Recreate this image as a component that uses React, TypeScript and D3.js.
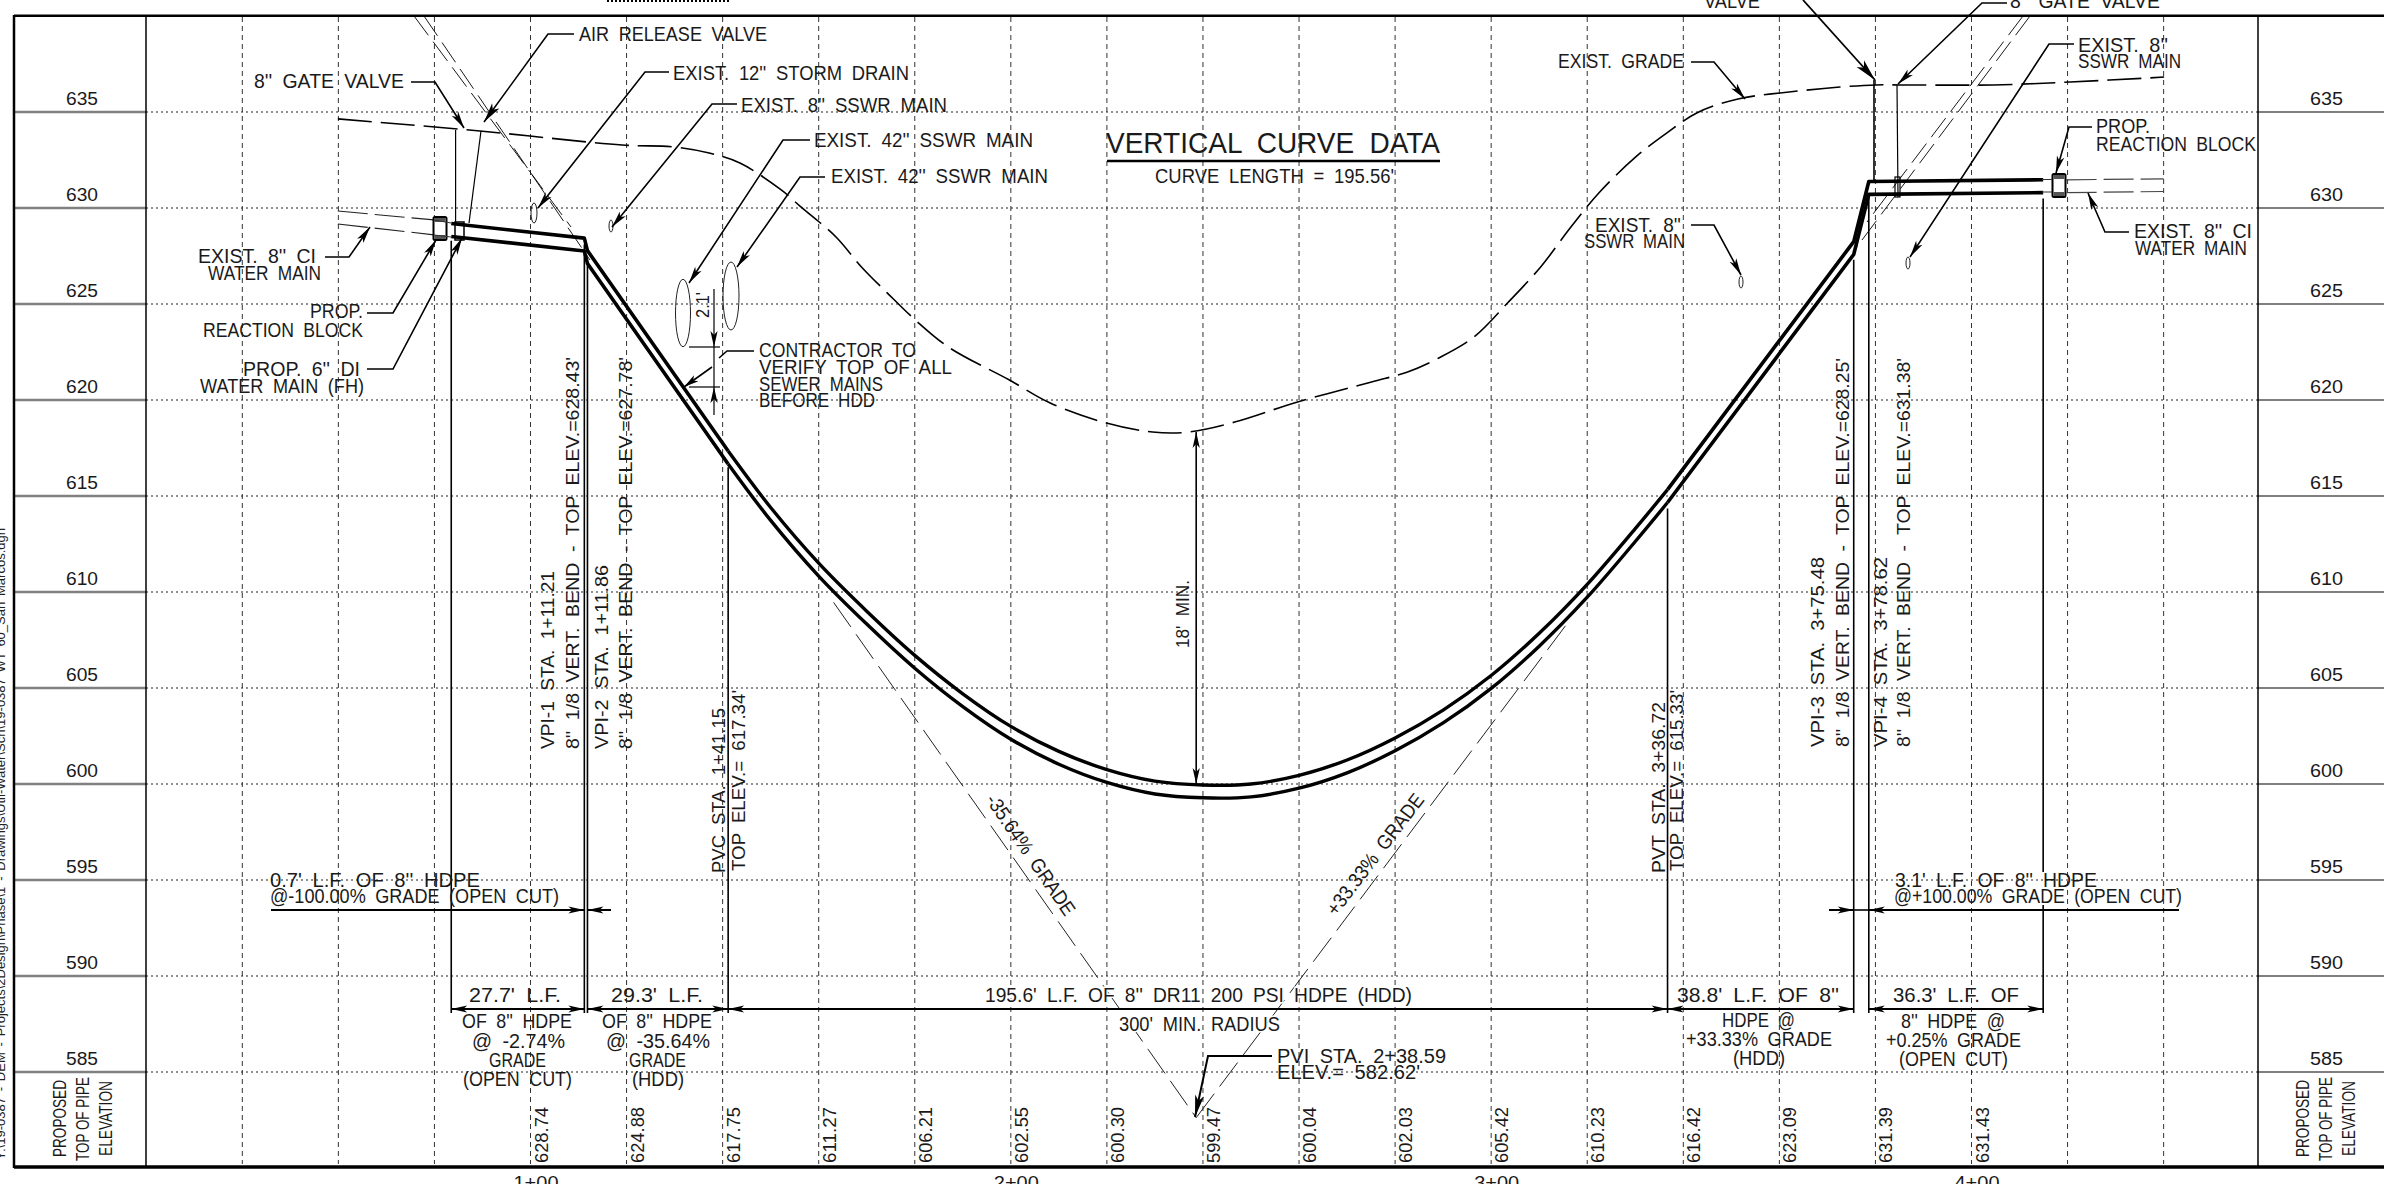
import React from "react";
import * as d3 from "d3";

// ---------- values (station in feet, elevation in feet) ----------
const elevationTicks = [635, 630, 625, 620, 615, 610, 605, 600, 595, 590, 585];
const gridStations = [40, 60, 80, 100, 120, 140, 160, 180, 200, 220, 240, 260, 280, 300, 320, 340, 360, 380, 400, 420, 440];
const stationLabels = [100, 200, 300, 400];
const stationLabelText = ["1+00", "2+00", "3+00", "4+00"];
const rowStations = [100, 120, 140, 160, 180, 200, 220, 240, 260, 280, 300, 320, 340, 360, 380, 400];
const rowElevations = ["628.74", "624.88", "617.75", "611.27", "606.21", "602.55", "600.30", "599.47", "600.04", "602.03", "605.42", "610.23", "616.42", "623.09", "631.39", "631.43"];

const pipeLeftSta = [83.5, 111.21, 111.86, 141.15];
const pipeLeftTop = [629.19, 628.43, 627.78, 617.34];
const pipeCurveSta = [141.15, 150, 160, 170, 180, 190, 200, 210, 220, 230, 240, 250, 260, 270, 280, 290, 300, 310, 320, 330, 336.72];
const pipeCurveTop = [617.34, 614.4, 611.5, 609.0, 606.7, 604.7, 603.0, 601.7, 600.75, 600.15, 599.95, 600.0, 600.45, 601.25, 602.4, 603.85, 605.65, 607.85, 610.4, 613.3, 615.33];
const pipeRightSta = [336.72, 375.48, 378.62, 414.92];
const pipeRightTop = [615.33, 628.25, 631.38, 631.47];
const pipeThickness = 0.67;

const groundSta = [59.9, 89.5, 119.06, 129.7, 137.2, 143.6, 152.2, 156.1, 163.6, 168.9, 174.3, 180.1, 187, 199.7, 208.2, 219.9, 229.5, 237, 246.6, 259.7, 275.1, 282.6, 289.1, 296.4, 303.4, 310.3, 316.6, 322.6, 330.1, 336.6, 342.8, 351.4, 362, 372.6, 380.1, 385.3, 404.5, 420.5, 440.1];
const groundElev = [634.64, 634.01, 633.28, 633.18, 632.86, 632.34, 630.94, 630.1, 628.49, 626.93, 625.57, 624.17, 622.76, 621.04, 619.84, 618.8, 618.33, 618.33, 618.85, 619.9, 620.94, 621.46, 622.19, 623.28, 625.05, 626.93, 629.01, 630.83, 632.66, 633.91, 634.95, 635.68, 636.04, 636.3, 636.41, 636.41, 636.41, 636.56, 636.82];

const gradeSta = [163.1, 238.59, 315.5];
const gradeElev = [609.46, 582.62, 608.25];

const mainLeftSta = [59.9, 79.9];
const mainLeftTop = [629.84, 629.38];
const mainLeftBottom = [629.17, 628.6];
const mainRightSta = [419.8, 440];
const mainRightTop = [631.47, 631.52];
const mainRightBottom = [630.8, 630.86];

const bendStations = [83.5, 111.21, 111.86, 141.15, 336.72, 375.48, 378.62, 414.92];
const bendTopElev = [628.3, 628.1, 627.1, 616.5, 614.35, 627.3, 630.7, 630.5];

const VPI_STATION = 238.59;
const VPI_COVER_TOP = 618.33;
const VPI_COVER_BOTTOM = 600.0;

// ---------- scales ----------
const x = d3.scaleLinear().domain([100, 400]).range([530.5, 1971.5]);
const y = d3.scaleLinear().domain([585, 635]).range([1072, 112]);

const linePath = (stas: number[], elevs: number[], curve: d3.CurveFactory = d3.curveLinear) =>
  d3
    .line<number>()
    .x((d) => x(d))
    .y((_, i) => y(elevs[i]))
    .curve(curve)(stas) as string;

const FONT = "'Liberation Sans', Arial, sans-serif";

function T({ x: tx, y: ty, w, s = 20, rot = 0, children, halo = false, fill = "#1a1a1a", ws = 5 }: any) {
  return (
    <text
      transform={`translate(${tx},${ty}) rotate(${rot})`}
      fontFamily={FONT}
      fontSize={s}
      fill={fill}
      textLength={w}
      lengthAdjust="spacingAndGlyphs"
      stroke={halo ? "#fff" : undefined}
      strokeWidth={halo ? 3 : undefined}
      style={{ paintOrder: "stroke", whiteSpace: "pre", wordSpacing: ws }}
    >
      {children}
    </text>
  );
}

function Head({ tip, from, len = 16, hw = 3.6 }: { tip: number[]; from: number[]; len?: number; hw?: number }) {
  const a = Math.atan2(tip[1] - from[1], tip[0] - from[0]);
  const c = Math.cos(a);
  const s = Math.sin(a);
  const p = (l: number, w: number) => `${tip[0] - l * c - w * s},${tip[1] - l * s + w * c}`;
  return <polygon points={`${tip[0]},${tip[1]} ${p(len, hw)} ${p(len * 0.75, 0)} ${p(len, -hw)}`} fill="#000" stroke="none" />;
}

function Leader({ pts, sw = 1.6, len = 17, hw = 3.8 }: { pts: number[][]; sw?: number; len?: number; hw?: number }) {
  const n = pts.length;
  return (
    <g>
      <polyline points={pts.map((p) => p.join(",")).join(" ")} fill="none" stroke="#000" strokeWidth={sw} />
      <Head tip={pts[n - 1]} from={pts[n - 2]} len={len} hw={hw} />
    </g>
  );
}

function Dim({ a, b, yy, headA = true, headB = true }: { a: number; b: number; yy: number; headA?: boolean; headB?: boolean }) {
  return (
    <g>
      <line x1={a} x2={b} y1={yy} y2={yy} stroke="#000" strokeWidth={2} />
      {headA && <Head tip={[a, yy]} from={[b, yy]} />}
      {headB && <Head tip={[b, yy]} from={[a, yy]} />}
    </g>
  );
}

function Block({ cx, top, bottom, w }: { cx: number; top: number; bottom: number; w: number }) {
  return (
    <g>
      <rect x={cx - w / 2} y={top} width={w} height={bottom - top} rx={1.5} fill="#fff" stroke="#000" strokeWidth={2} />
      <rect x={cx - w / 2 + 1} y={top + 1} width={w - 2} height={4} fill="#555" />
      <rect x={cx - w / 2 + 1} y={bottom - 5} width={w - 2} height={4} fill="#555" />
    </g>
  );
}

export default function App() {
  const bottomOf = (a: number[]) => a.map((v) => v - pipeThickness);
  const gridV = gridStations.map((s) => x(s));
  return (
    <svg width={2384} height={1184} viewBox="0 0 2384 1184" style={{ position: "absolute", left: 0, top: 0, display: "block", background: "#fff" }}>
      {/* grid */}
      {gridV.map((gx, i) => (
        <line key={i} x1={gx} x2={gx} y1={17} y2={1164} stroke="#333" strokeWidth={1} strokeDasharray="5 4" />
      ))}
      {elevationTicks.map((e) => (
        <g key={e}>
          <line x1={146} x2={2258} y1={y(e)} y2={y(e)} stroke="#222" strokeWidth={1.2} strokeDasharray="2 3" />
          <line x1={15} x2={146} y1={y(e)} y2={y(e)} stroke="#808080" strokeWidth={2.5} />
          <line x1={2258} x2={2384} y1={y(e)} y2={y(e)} stroke="#555" strokeWidth={1.5} />
          <T x={66} y={y(e) - 7} w={32} s={18}>{e}</T>
          <T x={2310} y={y(e) - 7} w={33} s={18}>{e}</T>
        </g>
      ))}

      {/* frame */}
      <line x1={14} x2={2384} y1={15.7} y2={15.7} stroke="#000" strokeWidth={2.5} />
      <line x1={14} x2={2384} y1={1167} y2={1167} stroke="#000" strokeWidth={3.5} />
      <line x1={14} x2={14} y1={15} y2={1168} stroke="#000" strokeWidth={2.5} />
      <line x1={146} x2={146} y1={15} y2={1166} stroke="#000" strokeWidth={1.5} />
      <line x1={2258} x2={2258} y1={15} y2={1166} stroke="#000" strokeWidth={1.5} />
      <line x1={607} x2={730} y1={1} y2={1} stroke="#000" strokeWidth={2} strokeDasharray="2 2" />

      {/* margin path text */}
      <T x={5} y={1160} rot={-90} s={12} w={632} ws={2} fill="#222">{"Y:\\19-0387 - DEM - Projects\\2Design\\Phase\\1 - Drawings\\Util-Water\\Sch\\19-0387 WT 60_San Marcos.dgn"}</T>

      {/* crossing pipes */}
      {[
        [414, 16, 571, 227],
        [424, 16, 590, 260],
        [2023, 16, 1867, 222],
        [2030, 16, 1853, 252],
      ].map((l, i) => (
        <line key={i} x1={l[0]} y1={l[1]} x2={l[2]} y2={l[3]} stroke="#000" strokeWidth={0.9} strokeDasharray="24 8" />
      ))}
      {[
        [683, 313, 7.5, 33.7],
        [731, 296, 8, 34],
        [534, 213, 3, 10],
        [611, 226, 2, 6],
        [1741, 282, 2, 6],
        [1908, 263, 2, 6],
      ].map((e, i) => (
        <ellipse key={i} cx={e[0]} cy={e[1]} rx={e[2]} ry={e[3]} fill="none" stroke="#222" strokeWidth={1} />
      ))}

      {/* existing grade */}
      <path d={linePath(groundSta, groundElev, d3.curveCatmullRom)} fill="none" stroke="#000" strokeWidth={1.6} strokeDasharray="34 9" />

      {/* grade tangents */}
      <path d={linePath(gradeSta.slice(0, 2), gradeElev.slice(0, 2))} fill="none" stroke="#222" strokeWidth={1} strokeDasharray="30 9" />
      <path d={linePath(gradeSta.slice(1), gradeElev.slice(1))} fill="none" stroke="#222" strokeWidth={1} strokeDasharray="30 9" />

      {/* existing water mains */}
      {[mainLeftTop, mainLeftBottom].map((e, i) => (
        <path key={i} d={linePath(mainLeftSta, e)} fill="none" stroke="#222" strokeWidth={1.1} strokeDasharray="30 7" />
      ))}
      {[mainRightTop, mainRightBottom].map((e, i) => (
        <path key={i} d={linePath(mainRightSta, e)} fill="none" stroke="#444" strokeWidth={1.2} strokeDasharray="30 7" />
      ))}

      {/* stationing / dimension verticals */}
      {bendStations.map((s, i) =>
        s === 414.92 ? (
          <g key={i}>
            <line x1={x(s)} x2={x(s)} y1={y(bendTopElev[i])} y2={872} stroke="#000" strokeWidth={1.6} />
            <line x1={x(s)} x2={x(s)} y1={905} y2={1013} stroke="#000" strokeWidth={1.6} />
          </g>
        ) : (
          <line key={i} x1={x(s)} x2={x(s)} y1={y(bendTopElev[i])} y2={1013} stroke="#000" strokeWidth={1.6} />
        )
      )}

      {/* proposed pipe */}
      {[(a: number[]) => a, bottomOf].map((f, i) => (
        <g key={i} fill="none" stroke="#000" strokeLinejoin="round">
          <path d={linePath(pipeLeftSta, f(pipeLeftTop))} strokeWidth={3.6} />
          <path d={linePath(pipeCurveSta, f(pipeCurveTop), d3.curveCatmullRom)} strokeWidth={3.4} />
          <path d={linePath(pipeRightSta, f(pipeRightTop))} strokeWidth={3.6} />
        </g>
      ))}

      {/* valves */}
      <g stroke="#000" strokeWidth={1.2} fill="none">
        <line x1={455.6} y1={130} x2={455.6} y2={223} />
        <line x1={481} y1={131} x2={469} y2={223} />
        <line x1={1874} y1={80} x2={1874} y2={181} strokeWidth={1.6} />
        <line x1={1897} y1={85} x2={1898} y2={197} />
        <rect x={455} y={222} width={9} height={18} strokeWidth={1.5} />
        <rect x={1895} y={177} width={5} height={20} />
      </g>
      <Block cx={440} top={217} bottom={240} w={13} />
      <Block cx={2059} top={174} bottom={197} w={13} />
      <line x1={2042} x2={2052} y1={179.5} y2={179.5} stroke="#333" />
      <line x1={2042} x2={2052} y1={192} y2={192} stroke="#333" />
      <line x1={434} x2={451} y1={220} y2={223} stroke="#333" />
      <line x1={434} x2={451} y1={235} y2={237} stroke="#333" />

      {/* leaders */}
      <Leader pts={[[574, 34], [548, 34], [484, 122]]} len={20} hw={4.5} />
      <Leader pts={[[411, 82], [435, 82], [464, 128]]} />
      <Leader pts={[[669, 72], [645, 72], [538, 208]]} />
      <Leader pts={[[737, 104], [712, 104], [612, 227]]} />
      <Leader pts={[[810, 140], [783, 140], [689, 283]]} />
      <Leader pts={[[825, 177], [800, 177], [737, 267]]} />
      <Leader pts={[[325, 257], [349, 257], [370, 227]]} />
      <Leader pts={[[367, 313], [393, 313], [436, 240]]} />
      <Leader pts={[[367, 369], [393, 369], [462, 238]]} />
      <Leader pts={[[712, 367], [684, 387]]} len={15} />
      <polyline points="754,351 727,351 719,358" fill="none" stroke="#000" strokeWidth={1.6} />
      <Leader pts={[[1691, 62], [1714, 62], [1745, 99]]} />
      <Leader pts={[[1691, 225], [1714, 225], [1741, 275]]} />
      <Leader pts={[[1803, 0], [1875, 80]]} sw={1.8} len={22} hw={5} />
      <Leader pts={[[2007, 3], [1982, 3], [1898, 84]]} />
      <Leader pts={[[2074, 44], [2049, 44], [1910, 257]]} />
      <Leader pts={[[2092, 127], [2069, 127], [2056, 173]]} />
      <Leader pts={[[2129, 232], [2105, 232], [2088, 193]]} />
      <Leader pts={[[1272, 1056], [1208, 1056], [1195, 1117]]} sw={2} len={22} hw={4.5} />

      {/* 2.1' dimension */}
      <line x1={714} x2={714} y1={289} y2={415} stroke="#000" strokeWidth={1.2} />
      <Head tip={[714, 347]} from={[714, 300]} />
      <Head tip={[714, 387]} from={[714, 415]} />
      <line x1={689} x2={720} y1={347} y2={347} stroke="#000" strokeWidth={1.2} />
      <line x1={689} x2={720} y1={387} y2={387} stroke="#000" strokeWidth={1.2} />

      {/* 18' minimum cover */}
      <line x1={x(VPI_STATION)} x2={x(VPI_STATION)} y1={y(VPI_COVER_TOP)} y2={y(VPI_COVER_BOTTOM)} stroke="#000" strokeWidth={1.6} />
      <Head tip={[x(VPI_STATION), y(VPI_COVER_TOP)]} from={[x(VPI_STATION), 600]} />
      <Head tip={[x(VPI_STATION), y(VPI_COVER_BOTTOM)]} from={[x(VPI_STATION), 600]} />

      {/* dimension lines */}
      <Dim a={x(83.5)} b={x(111.21)} yy={1009} />
      <Dim a={x(111.86)} b={x(141.15)} yy={1009} />
      <Dim a={x(141.15)} b={x(336.72)} yy={1009} />
      <Dim a={x(336.72)} b={x(375.48)} yy={1009} />
      <Dim a={x(378.62)} b={x(414.92)} yy={1009} />
      <Dim a={271} b={x(111.21)} yy={910} headA={false} />
      <Dim a={x(111.86)} b={611} yy={910} headB={false} />
      <Dim a={1829} b={x(375.48)} yy={910} headA={false} />
      <line x1={x(375.48)} x2={x(378.62)} y1={910} y2={910} stroke="#000" strokeWidth={1.6} />
      <Dim a={x(378.62)} b={2179} yy={910} headB={false} />

      {/* title */}
      <T x={1106} y={153} w={334} s={30} ws={8}>VERTICAL CURVE DATA</T>
      <line x1={1107} x2={1440} y1={161} y2={161} stroke="#000" strokeWidth={2.5} />
      <T x={1155} y={183} w={239}>CURVE LENGTH = 195.56'</T>

      {/* callouts */}
      <T x={579} y={41} w={188}>AIR RELEASE VALVE</T>
      <T x={254} y={88} w={150}>8'' GATE VALVE</T>
      <T x={673} y={80} w={236}>EXIST. 12'' STORM DRAIN</T>
      <T x={741} y={112} w={206}>EXIST. 8'' SSWR MAIN</T>
      <T x={814} y={147} w={219}>EXIST. 42'' SSWR MAIN</T>
      <T x={831} y={183} w={217}>EXIST. 42'' SSWR MAIN</T>
      <T x={1558} y={68} w={126}>EXIST. GRADE</T>
      <T x={1704} y={8} w={56}>VALVE</T>
      <T x={2010} y={8} w={150}>8'' GATE VALVE</T>
      <T x={2078} y={52} w={90}>EXIST. 8''</T>
      <T x={2078} y={68} w={103}>SSWR MAIN</T>
      <T x={2096} y={133} w={54}>PROP.</T>
      <T x={2096} y={151} w={160}>REACTION BLOCK</T>
      <T x={2134} y={238} w={118}>EXIST. 8'' CI</T>
      <T x={2135} y={255} w={112}>WATER MAIN</T>
      <T x={1595} y={232} w={86}>EXIST. 8''</T>
      <T x={1584} y={248} w={101}>SSWR MAIN</T>
      <T x={198} y={263} w={118}>EXIST. 8'' CI</T>
      <T x={208} y={280} w={113}>WATER MAIN</T>
      <T x={310} y={318} w={53}>PROP.</T>
      <T x={203} y={337} w={160}>REACTION BLOCK</T>
      <T x={243} y={376} w={117}>PROP. 6'' DI</T>
      <T x={200} y={393} w={164}>WATER MAIN (FH)</T>
      <T x={759} y={357} w={157}>CONTRACTOR TO</T>
      <T x={759} y={374} w={193}>VERIFY TOP OF ALL</T>
      <T x={759} y={391} w={124}>SEWER MAINS</T>
      <T x={759} y={407} w={116}>BEFORE HDD</T>
      <T x={709} y={318} rot={-90} w={26} s={18}>2.1'</T>
      <T x={1189} y={648} rot={-90} w={68} s={18}>18' MIN.</T>

      {/* vertical notes */}
      <T x={554} y={749} rot={-90} w={178} s={19}>VPI-1 STA. 1+11.21</T>
      <T x={579} y={749} rot={-90} w={392} s={19}>8'' 1/8 VERT. BEND - TOP ELEV.=628.43'</T>
      <T x={608} y={749} rot={-90} w={184} s={19}>VPI-2 STA. 1+11.86</T>
      <T x={632} y={749} rot={-90} w={392} s={19}>8'' 1/8 VERT. BEND - TOP ELEV.=627.78'</T>
      <T x={725} y={873} rot={-90} w={165} s={19}>PVC STA. 1+41.15</T>
      <T x={745} y={871} rot={-90} w={181} s={19}>TOP ELEV.= 617.34'</T>
      <T x={1665} y={873} rot={-90} w={171} s={19}>PVT STA. 3+36.72</T>
      <T x={1683} y={871} rot={-90} w={181} s={19}>TOP ELEV.= 615.33'</T>
      <T x={1824} y={747} rot={-90} w={190} s={19}>VPI-3 STA. 3+75.48</T>
      <T x={1849} y={747} rot={-90} w={389} s={19}>8'' 1/8 VERT. BEND - TOP ELEV.=628.25'</T>
      <T x={1887} y={747} rot={-90} w={190} s={19}>VPI-4 STA. 3+78.62</T>
      <T x={1910} y={747} rot={-90} w={389} s={19}>8'' 1/8 VERT. BEND - TOP ELEV.=631.38'</T>

      {/* grade labels */}
      <T x={985} y={800} rot={55.6} w={142}>-35.64% GRADE</T>
      <T x={1336} y={917} rot={-52.7} w={147}>+33.33% GRADE</T>

      {/* dimension text */}
      <T x={270} y={887} w={210}>0.7' L.F. OF 8'' HDPE</T>
      <T x={270} y={903} w={289}>@-100.00% GRADE (OPEN CUT)</T>
      <T x={469} y={1002} w={92}>27.7' L.F.</T>
      <T x={462} y={1028} w={110}>OF 8'' HDPE</T>
      <T x={472} y={1048} w={93}>@ -2.74%</T>
      <T x={489} y={1067} w={57}>GRADE</T>
      <T x={463} y={1086} w={109}>(OPEN CUT)</T>
      <T x={611} y={1002} w={92}>29.3' L.F.</T>
      <T x={602} y={1028} w={110}>OF 8'' HDPE</T>
      <T x={606} y={1048} w={104}>@ -35.64%</T>
      <T x={629} y={1067} w={57}>GRADE</T>
      <T x={632} y={1086} w={52}>(HDD)</T>
      <T x={985} y={1002} w={427} halo>195.6' L.F. OF 8'' DR11 200 PSI HDPE (HDD)</T>
      <T x={1119} y={1031} w={161} halo>300' MIN. RADIUS</T>
      <T x={1277} y={1063} w={169}>PVI STA. 2+38.59</T>
      <T x={1277} y={1079} w={143}>ELEV.= 582.62'</T>
      <T x={1677} y={1002} w={162}>38.8' L.F. OF 8''</T>
      <T x={1722} y={1027} w={73}>HDPE @</T>
      <T x={1686} y={1046} w={146}>+33.33% GRADE</T>
      <T x={1733} y={1065} w={52}>(HDD)</T>
      <T x={1893} y={1002} w={126}>36.3' L.F. OF</T>
      <T x={1901} y={1028} w={104}>8'' HDPE @</T>
      <T x={1886} y={1047} w={135}>+0.25% GRADE</T>
      <T x={1899} y={1066} w={109}>(OPEN CUT)</T>
      <T x={1895} y={887} w={202}>3.1' L.F. OF 8'' HDPE</T>
      <T x={1894} y={903} w={288}>@+100.00% GRADE (OPEN CUT)</T>

      {/* row headings */}
      {[0, 2243].map((dx) => (
        <g key={dx}>
          <T x={66 + dx} y={1157} rot={-90} w={77} s={19} ws={0}>PROPOSED</T>
          <T x={89 + dx} y={1161} rot={-90} w={84} s={19} ws={0}>TOP OF PIPE</T>
          <T x={112 + dx} y={1156} rot={-90} w={75} s={19} ws={0}>ELEVATION</T>
        </g>
      ))}

      {/* elevation row */}
      {rowStations.map((s, i) => (
        <T key={s} x={x(s) + 17} y={1163} rot={-90} w={56} s={18}>{rowElevations[i]}</T>
      ))}

      {/* station labels */}
      {stationLabels.map((s, i) => (
        <T key={s} x={x(s) - 17} y={1189} w={45} s={18}>{stationLabelText[i]}</T>
      ))}
    </svg>
  );
}
